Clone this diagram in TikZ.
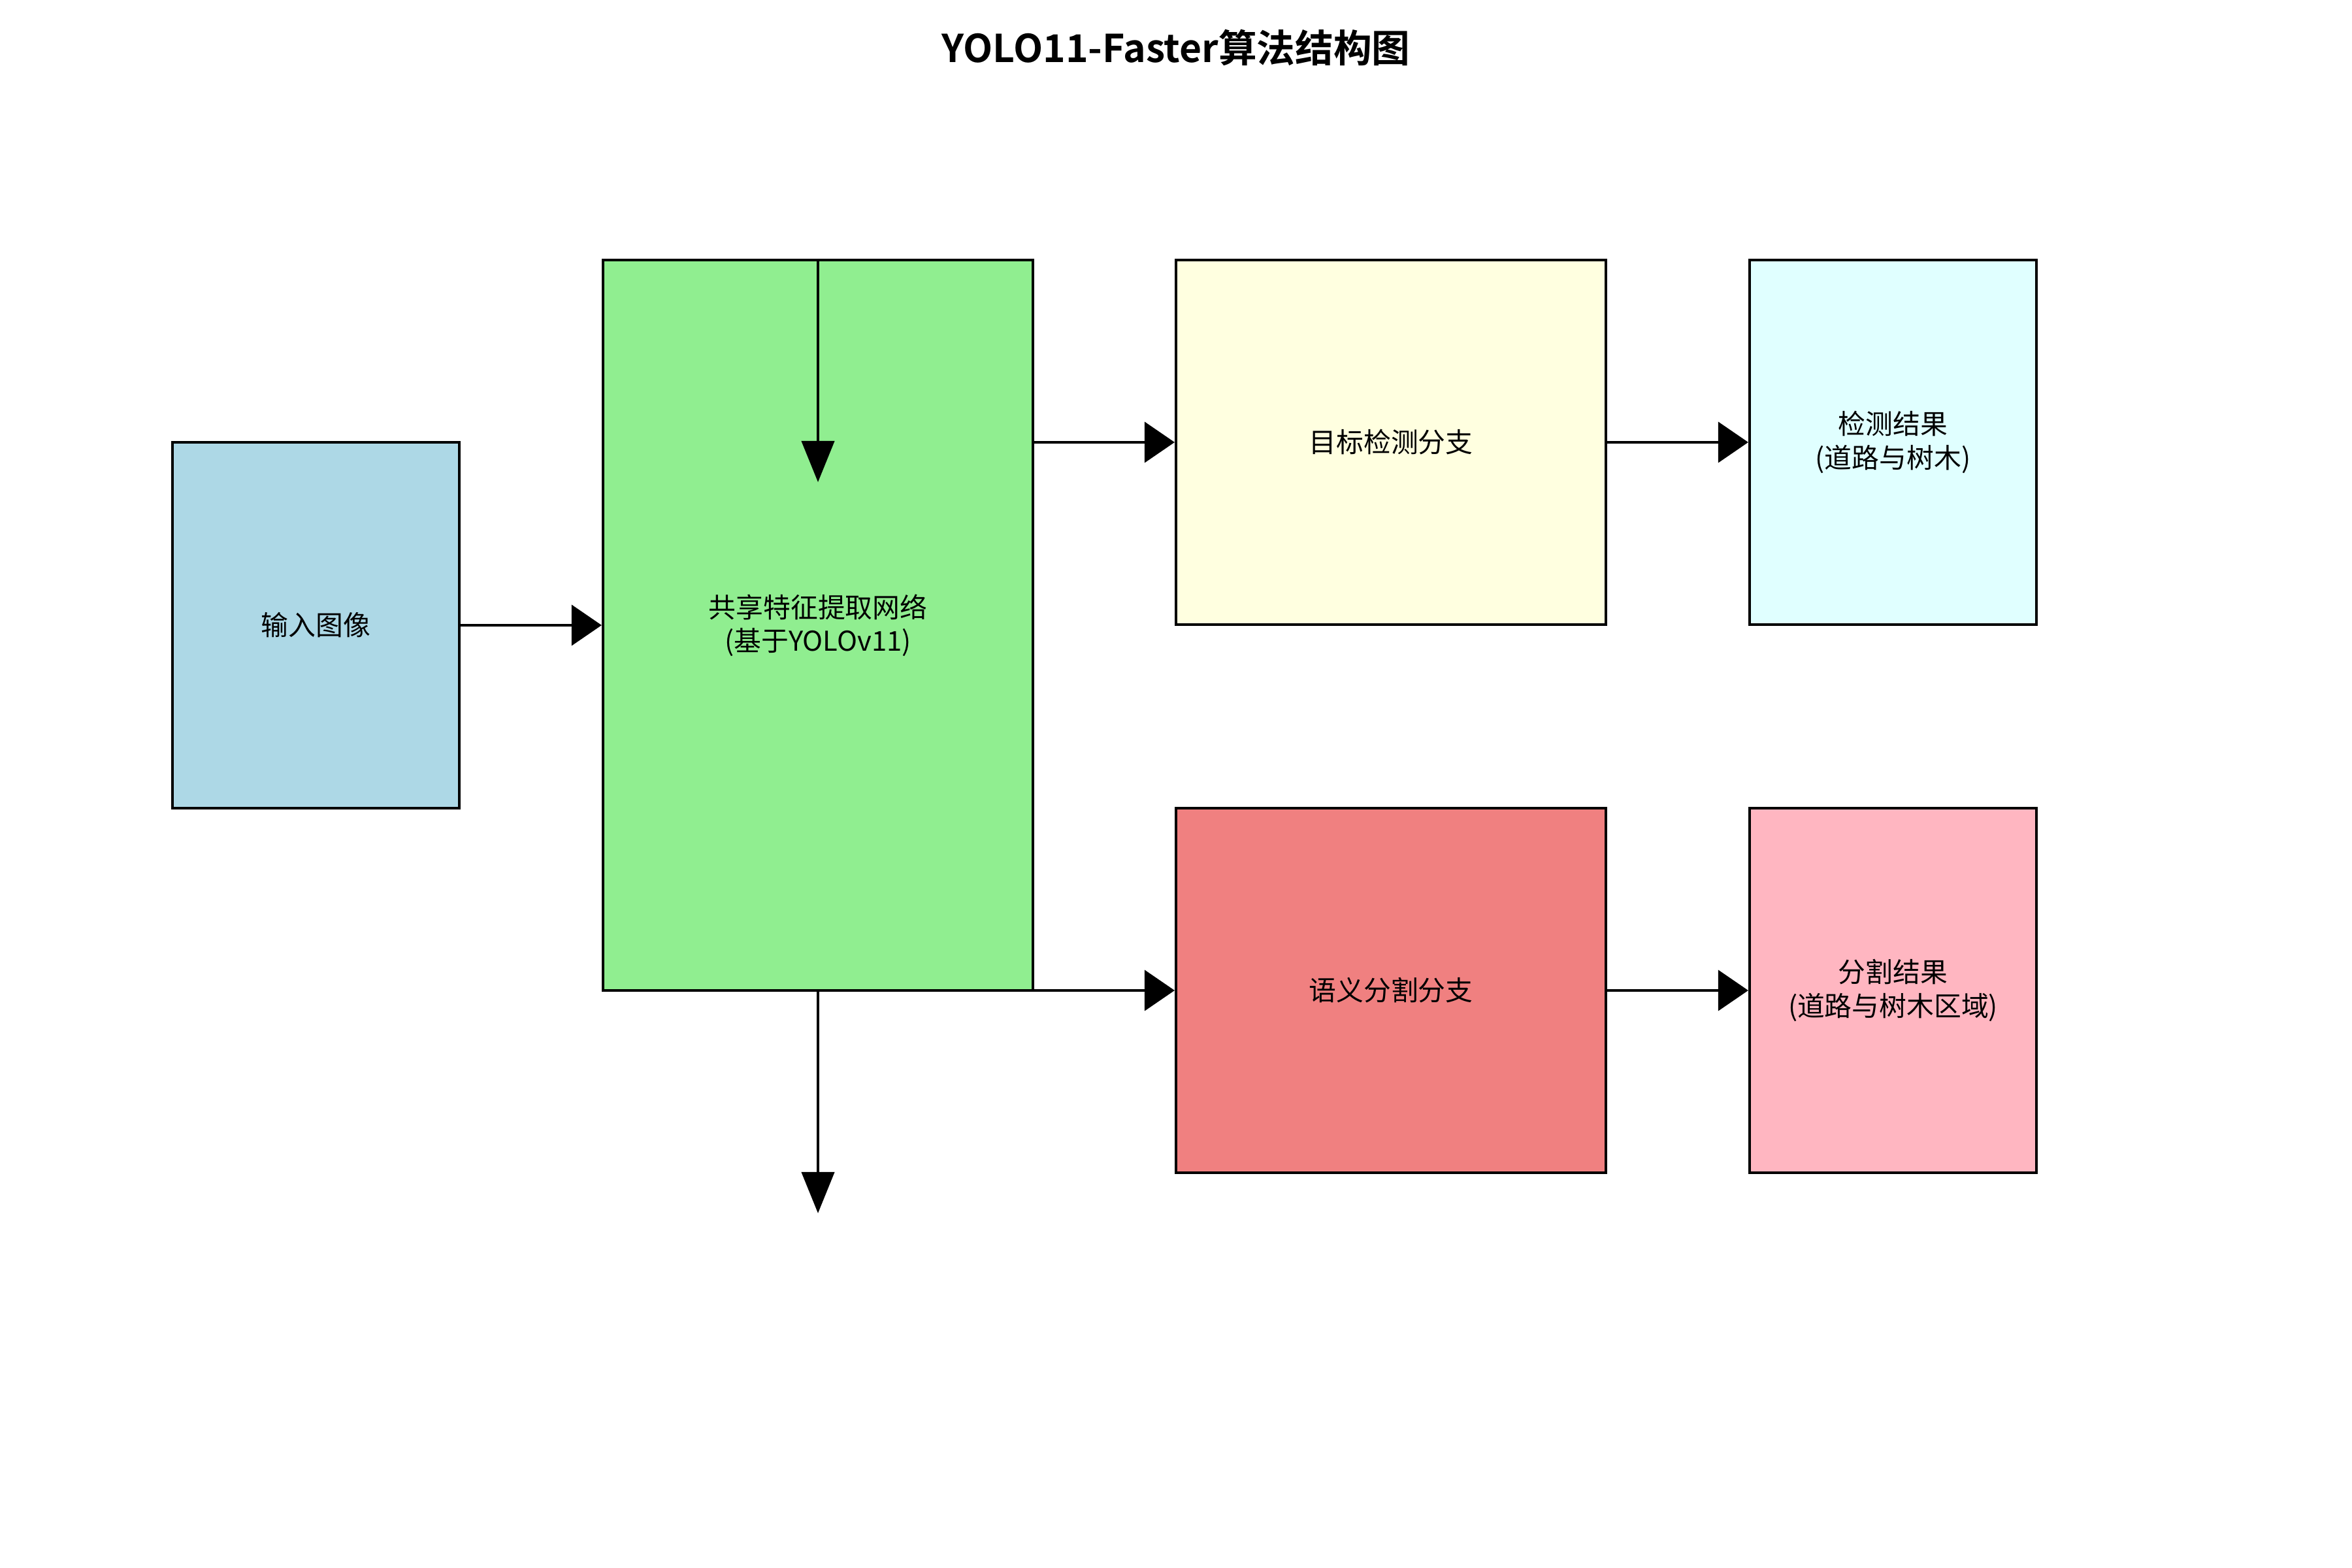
\documentclass[tikz,border=0pt]{standalone}
\usepackage{fontspec}
\setmainfont{Noto Sans CJK SC}[BoldFont={Noto Sans CJK SC Bold}]
\usetikzlibrary{arrows.meta, positioning, calc}

\begin{document}
\begin{tikzpicture}[line join=miter,
  box/.style={draw=black, line width=1.2pt, align=center, inner sep=0pt,
    font=\fontsize{11.9}{14.6}\selectfont},
  smallbox/.style={box, minimum width=4.39cm, minimum height=5.58cm},
  widebox/.style={box, minimum width=6.58cm, minimum height=5.58cm},
  harrow/.style={line width=1.2pt, -{Triangle[length=0.46cm, width=0.62cm]}},
  varrow/.style={line width=1.2pt, -{Triangle[length=0.63cm, width=0.50cm]}}]
\definecolor{inputblue}{HTML}{ADD8E6}
\definecolor{backbonegreen}{HTML}{90EE90}
\definecolor{detyellow}{HTML}{FFFFE0}
\definecolor{detcyan}{HTML}{E0FFFF}
\definecolor{segcoral}{HTML}{F08080}
\definecolor{segpink}{HTML}{FFB6C1}

\useasboundingbox (0,0) rectangle (36,24);

% Title
\node[font=\fontsize{16.7}{20}\selectfont\bfseries] (title) at (18,23.27) {YOLO11-Faster算法结构图};

% Blocks
\node[smallbox, fill=inputblue, minimum height=5.60cm] (input) at (4.835,14.43) {输入图像};
\node[box, fill=backbonegreen, minimum width=6.58cm, minimum height=11.18cm] (shared) at (12.52,14.43)
  {共享特征提取网络\\(基于YOLOv11)};
\node[widebox, fill=detyellow] (detect) at (21.29,17.23) {目标检测分支};
\node[widebox, fill=segcoral] (segment) at (21.29,8.84) {语义分割分支};
\node[smallbox, fill=detcyan] (detres) at (28.975,17.23) {检测结果\\(道路与树木)};
\node[smallbox, fill=segpink] (segres) at (28.975,8.84) {分割结果\\(道路与树木区域)};

% Free ends of the two vertical arrows
\coordinate (topend) at (12.52,16.62);
\coordinate (bottomend) at (12.52,5.43);

% Connectors
\draw[harrow] (input.east) -- (shared.west);
\draw[harrow] (shared.east |- detect.west) -- (detect.west);
\draw[harrow] (shared.east |- segment.west) -- (segment.west);
\draw[harrow] (detect.east) -- (detres.west);
\draw[harrow] (segment.east) -- (segres.west);
\draw[varrow] (shared.north) -- (topend);
\draw[varrow] (shared.south) -- (bottomend);
\end{tikzpicture}
\end{document}
